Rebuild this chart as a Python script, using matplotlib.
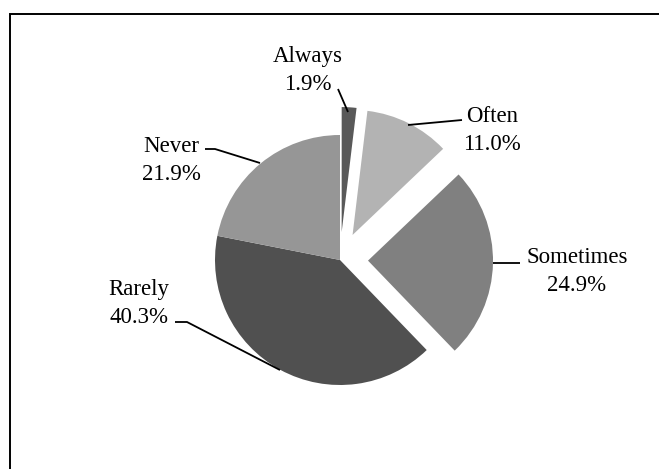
import matplotlib
matplotlib.use("Agg")
import matplotlib.pyplot as plt

# Survey response shares (%), clockwise from 12 o'clock
categories = ["Always", "Often", "Sometimes", "Rarely", "Never"]
shares = [1.9, 11.0, 24.9, 40.3, 21.9]
slice_colors = ["#595959", "#b3b3b3", "#808080", "#505050", "#969696"]
pulled_out = [True, True, True, False, False]

W, H = 659, 469
fig = plt.figure(figsize=(W / 100, H / 100), dpi=100)
ax = fig.add_axes([0, 0, 1, 1])


def fy(y):
    """Convert a top-down pixel row to the axes' bottom-up y coordinate."""
    return H - y


center = (340, fy(260))
radius = 125
offset = 28

ax.pie(
    shares,
    colors=slice_colors,
    startangle=90,
    counterclock=False,
    explode=[offset if p else 0 for p in pulled_out],
    center=center,
    radius=radius,
    wedgeprops=dict(linewidth=0),
    frame=True,
)
ax.set_xlim(0, W)
ax.set_ylim(0, H)
ax.set_aspect("equal")
ax.axis("off")

# Label anchors (x centre, baseline of first line) and leader polylines
label_pos = {
    "Always": (308, 62),
    "Often": (492, 122),
    "Sometimes": (577, 263),
    "Rarely": (139, 295),
    "Never": (171, 152),
}
leaders = {
    "Always": [(338, 89), (348, 112)],
    "Often": [(408, 125), (462, 120)],
    "Sometimes": [(493, 263), (520, 263)],
    "Rarely": [(175, 322), (187, 322), (280, 370)],
    "Never": [(205, 149), (215, 149), (260, 163)],
}

font = dict(family=["Liberation Serif", "DejaVu Serif"], fontsize=16.5, color="black")
line_gap = 28
for name, val in zip(categories, shares):
    x, yb = label_pos[name]
    ax.text(x, fy(yb), name, ha="center", va="baseline", **font)
    ax.text(x, fy(yb + line_gap), f"{val:.1f}%", ha="center", va="baseline", **font)
    pts = leaders[name]
    ax.plot([p[0] for p in pts], [fy(p[1]) for p in pts], color="black",
            lw=1.3, solid_capstyle="butt", zorder=5)

# Chart frame (left and top edges fall inside the image)
ax.plot([10, 10, W + 5], [fy(H + 5), fy(14), fy(14)], color="black", lw=1.4,
        solid_joinstyle="miter", zorder=6, clip_on=False)

fig.savefig("out.png", dpi=100, facecolor="white")
